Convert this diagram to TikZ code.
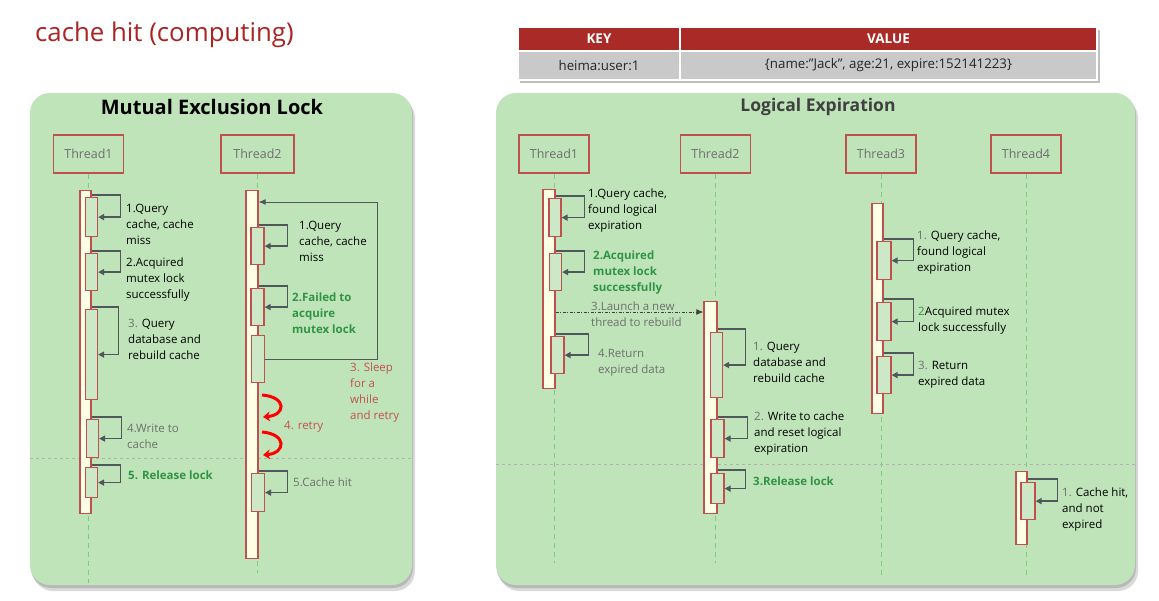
\documentclass[tikz,border=0pt]{standalone}
\usepackage{fontspec}
\setmainfont{Open Sans}
\usetikzlibrary{arrows.meta}
\definecolor{panel}{HTML}{C0E4BA}
\definecolor{lred}{HTML}{C0504D}
\definecolor{barfill}{HTML}{FFFFE6}
\definecolor{actfill}{HTML}{CDE8C6}
\definecolor{arrgray}{HTML}{4F575A}
\definecolor{lifegreen}{HTML}{7FCB7F}
\definecolor{tgray}{HTML}{6E6E6E}
\definecolor{okgreen}{HTML}{2F9444}
\definecolor{titlered}{HTML}{AA2424}
\definecolor{hdrred}{HTML}{A92A26}
\definecolor{cellgray}{HTML}{C9C9C9}
\begin{document}
\begin{tikzpicture}[x=1pt,y=-1pt,
    thread/.style={draw=lred, line width=1.2pt, minimum width=70pt, minimum height=38pt, inner sep=0, text=tgray, font=\fontsize{12.5}{15}\selectfont},
    life/.style={draw=lifegreen, dash pattern=on 5pt off 4pt, line width=0.9pt},
    bar/.style={draw=lred, fill=barfill, line width=1.2pt, minimum width=11pt, inner sep=0, anchor=north},
    act/.style={draw=lred, fill=actfill, line width=1.2pt, minimum width=12pt, inner sep=0, anchor=north},
    msg/.style={draw=arrgray, line width=1.6pt, -{Triangle[length=6pt,width=6pt]}},
    backline/.style={draw=arrgray, line width=0.9pt, -{Latex[length=7pt,width=6pt]}},
    launch/.style={draw=black!75, line width=0.9pt, dash pattern=on 3pt off 1.5pt on 1pt off 1.5pt, -{Latex[length=7pt,width=6pt]}},
    retry/.style={draw=red, line width=3pt, -{Stealth[length=7pt,width=10pt]}},
    sep/.style={draw=black!30, dashed, line width=0.7pt},
    lbl/.style={anchor=north west, inner sep=0, align=left, text=black, font=\fontsize{11.5}{16}\selectfont},
    boldlbl/.style={lbl, text=okgreen, font=\bfseries\fontsize{11.5}{16}\selectfont},
    hdr/.style={fill=hdrred, draw=white, line width=1.2pt, inner sep=0, text=white, font=\bfseries\fontsize{13.5}{15}\selectfont},
    cell/.style={fill=cellgray, draw=white, line width=1.2pt, inner sep=0, text=black!85, font=\fontsize{13.3}{15}\selectfont}]
    \fill[white] (0,0) rectangle (1159,601);
    \useasboundingbox (0,0) rectangle (1159,601);
    \node[anchor=base west, inner sep=0, text=titlered, font=\fontsize{25.8}{30}\selectfont] (title) at (35,42) {cache hit (computing)};
    \fill[black!25] (520,30) rectangle (1100,83);
    \node[hdr, minimum width=162pt, minimum height=24pt] (keyh) at (599,39) {KEY};
    \node[hdr, minimum width=417pt, minimum height=24pt] (valh) at (888.5,39) {VALUE};
    \node[cell, minimum width=162pt, minimum height=29pt] (keyc) at (599,65.5) {heima:user:1};
    \node[cell, minimum width=417pt, minimum height=29pt] (valc) at (888.5,65.5) {\{name:"Jack", age:21, expire:152141223\}};
    \fill[black!15, rounded corners=20pt] (33,98) rectangle (415,591);
    \fill[black!28, rounded corners=20pt] (31,95) rectangle (413,588);
    \fill[panel, rounded corners=20pt] (30,93) rectangle (412,585);
    \fill[black!15, rounded corners=20pt] (499,98) rectangle (1138,591);
    \fill[black!28, rounded corners=20pt] (497,95) rectangle (1136,588);
    \fill[panel, rounded corners=20pt] (496,93) rectangle (1135,585);
    \node[font=\bfseries\fontsize{20}{24}\selectfont] (mtitle) at (212,107) {Mutual Exclusion Lock};
    \node[text=black!75, font=\bfseries\fontsize{17.5}{21}\selectfont] (etitle) at (818,107) {Logical Expiration};
    \draw[sep] (30,458) -- (412,458);
    \draw[sep] (496,464) -- (1135,464);
    \node[thread] (mt1) at (88.5,154) {Thread1};
    \node[thread, minimum width=73pt] (mt2) at (257.5,154) {Thread2};
    \node[thread] (et1) at (554,154) {Thread1};
    \node[thread] (et2) at (715.5,154) {Thread2};
    \node[thread] (et3) at (881,154) {Thread3};
    \node[thread] (et4) at (1026,154) {Thread4};
    \draw[life] (mt1.south) -- ++(0,409);
    \draw[life] (mt2.south) -- ++(0,399);
    \draw[life] (et1.south) -- ++(0,389);
    \draw[life] (et2.south) -- ++(0,389);
    \draw[life] (et3.south) -- ++(0,402);
    \draw[life] (et4.south) -- ++(0,402);
    \node[bar, minimum height=323pt] (mb1) at (85.5,190) {};
    \node[act, minimum height=39pt] (m1a) at (91.5,197) {};
    \node[act, minimum height=37pt] (m1b) at (91.5,253) {};
    \node[act, minimum height=90pt] (m1c) at (91.5,309) {};
    \node[act, minimum height=38pt] (m1d) at (92.5,419) {};
    \node[act, minimum height=30pt] (m1e) at (91.5,467) {};
    \draw[msg] ([yshift=2pt]m1a.north -| mb1.east) -- ++(29,0) |- (m1a.east);
    \draw[msg] ([yshift=2pt]m1b.north -| mb1.east) -- ++(29,0) |- (m1b.east);
    \draw[msg] ([yshift=2pt]m1c.north -| mb1.east) -- ++(27,0) |- (m1c.east);
    \draw[msg] ([yshift=2pt]m1d.north -| mb1.east) -- ++(30,0) |- (m1d.east);
    \draw[msg] ([yshift=2pt]m1e.north -| mb1.east) -- ++(29,0) |- (m1e.east);
    \node[lbl] at (126,204) {1.Query\\cache, cache\\miss};
    \node[lbl] at (126,258) {2.Acquired\\mutex lock\\successfully};
    \node[lbl] at (128,319) {{\color{tgray}3.} Query\\database and\\rebuild cache};
    \node[lbl, text=tgray] at (127,424) {4.Write to\\cache};
    \node[boldlbl] at (128,471) {5. Release lock};
    \node[bar, minimum height=368pt, minimum width=12pt] (mb2) at (252,190) {};
    \node[act, minimum height=37pt, minimum width=13pt] (m2a) at (257.5,227) {};
    \node[act, minimum height=37pt, minimum width=13pt] (m2b) at (257.5,288) {};
    \node[act, minimum height=47pt, minimum width=13pt] (m2c) at (258,335) {};
    \node[act, minimum height=38pt, minimum width=13pt] (m2d) at (258,473) {};
    \draw[msg] ([yshift=2pt]m2a.north -| mb2.east) -- ++(29,0) |- (m2a.east);
    \draw[msg] ([yshift=2pt]m2b.north -| mb2.east) -- ++(29,0) |- (m2b.east);
    \draw[msg] ([yshift=2pt]m2d.north -| mb2.east) -- ++(29,0) |- (m2d.east);
    \draw[backline] (m2c.east) -- ++(112,0) |- ([yshift=-12pt]mb2.north east);
    \draw[retry] (262,395) .. controls (287,397) and (286,415) .. (263,417);
    \draw[retry] (262,432) .. controls (287,434) and (286,453) .. (263,455);
    \node[lbl] at (299,221) {1.Query\\cache, cache\\miss};
    \node[boldlbl] at (292,293) {2.Failed to\\acquire\\mutex lock};
    \node[lbl, text=lred] at (350,363) {3. Sleep\\for a\\while\\and retry};
    \node[lbl, text=lred] at (284,421) {4. retry};
    \node[lbl, text=tgray] at (293,478) {5.Cache hit};
    \node[bar, minimum height=199pt, minimum width=12pt] (eb1) at (549,189) {};
    \node[act, minimum height=38pt] (e1a) at (555,198) {};
    \node[act, minimum height=37pt] (e1b) at (555.5,253) {};
    \node[act, minimum height=37pt, minimum width=13pt] (e1c) at (557.5,336) {};
    \draw[msg] ([yshift=2pt]e1a.north -| eb1.east) -- ++(29,0) |- (e1a.east);
    \draw[msg] ([yshift=2pt]e1b.north -| eb1.east) -- ++(29,0) |- (e1b.east);
    \draw[msg] ([yshift=2pt]e1c.north -| eb1.east) -- ++(33,0) |- (e1c.east);
    \node[lbl] at (588,189) {1.Query cache,\\found logical\\expiration};
    \node[boldlbl] at (593,251) {2.Acquired\\mutex lock\\successfully};
    \node[lbl, text=tgray] at (598,349) {4.Return\\expired data};
    \node[bar, minimum height=212pt, minimum width=13pt] (eb2) at (710.5,301) {};
    \coordinate (launch) at ([yshift=-123pt]eb1.north east);
    \draw[launch] (launch) -- (launch -| eb2.west);
    \node[lbl, text=tgray] at (591,302) {3.Launch a new\\thread to rebuild};
    \node[act, minimum height=65pt] (e2a) at (716.5,332) {};
    \node[act, minimum height=38pt, minimum width=13pt] (e2b) at (717.5,419) {};
    \node[act, minimum height=30pt, minimum width=13pt] (e2c) at (717.5,473) {};
    \draw[msg] ([yshift=3pt]e2a.north -| eb2.east) -- ++(28,0) |- (e2a.east);
    \draw[msg] ([yshift=2pt]e2b.north -| eb2.east) -- ++(30,0) |- (e2b.east);
    \draw[msg] ([yshift=3pt]e2c.north -| eb2.east) -- ++(28,0) |- (e2c.east);
    \node[lbl] at (753,342) {{\color{tgray}1.} Query\\database and\\rebuild cache};
    \node[lbl] at (754,412) {{\color{tgray}2.} Write to cache\\and reset logical\\expiration};
    \node[boldlbl] at (753,477) {3.Release lock};
    \node[bar, minimum height=210pt] (eb3) at (877.5,203) {};
    \node[act, minimum height=38pt, minimum width=14pt] (e3a) at (884,241) {};
    \node[act, minimum height=38pt, minimum width=14pt] (e3b) at (884,302) {};
    \node[act, minimum height=37pt, minimum width=14pt] (e3c) at (884,356) {};
    \draw[msg] ([yshift=2pt]e3a.north -| eb3.east) -- ++(30,0) |- (e3a.east);
    \draw[msg] ([yshift=3pt]e3b.north -| eb3.east) -- ++(30,0) |- (e3b.east);
    \draw[msg] ([yshift=3pt]e3c.north -| eb3.east) -- ++(30,0) |- (e3c.east);
    \node[lbl] at (917,231) {{\color{tgray}1.} Query cache,\\found logical\\expiration};
    \node[lbl] at (918,307) {{\color{okgreen}2}Acquired mutex\\lock successfully};
    \node[lbl] at (918,361) {{\color{tgray}3.} Return\\expired data};
    \node[bar, minimum height=73pt] (eb4) at (1021.5,471) {};
    \node[act, minimum height=37pt, minimum width=14pt] (e4a) at (1028,482) {};
    \draw[msg] ([yshift=3pt]e4a.north -| eb4.east) -- ++(30,0) |- (e4a.east);
    \node[lbl] at (1062,488) {{\color{tgray}1.} Cache hit,\\and not\\expired};
\end{tikzpicture}
\end{document}
